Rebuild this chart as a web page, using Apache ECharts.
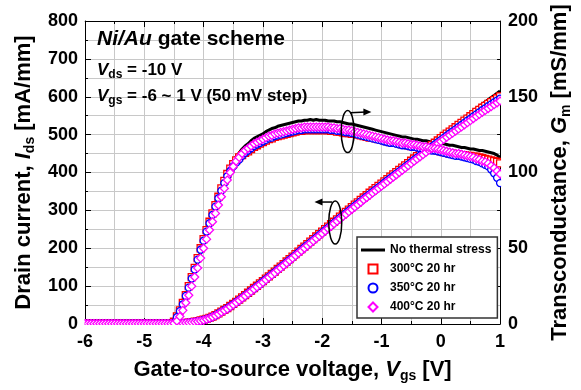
<!DOCTYPE html>
<html>
<head>
<meta charset="utf-8">
<title>Ni/Au gate scheme - Ids / Gm</title>
<script src="https://cdn.jsdelivr.net/npm/echarts@6/dist/echarts.min.js"></script>
<style>
  html, body { margin:0; padding:0; background:#fff; }
  #chart { width:581px; height:390px; }
</style>
</head>
<body>
<div id="chart"></div>
<script>
// ===== Data, Vgs sweep -6 .. 1 V, 50 mV step
const VGS_START = -6, VGS_STEP = 0.05, VGS_COUNT = 141;
const LEGEND_NAMES = ['No thermal stress', '300°C 20 hr', '350°C 20 hr', '400°C 20 hr'];

// drain current [mA/mm]
const ID_NONE = [
  0.5,0.5,0.5,0.5,0.5,0.5,0.5,0.5,0.5,0.5,
  0.5,0.5,0.5,0.5,0.5,0.5,0.5,0.5,0.5,0.5,
  0.5,0.5,0.5,0.5,0.5,0.5,0.5,0.5,0.5,0.5,
  0.5,
  1,1.6,2.3,3.1,4.1,5.3,6.6,8.1,9.9,12,
  14.5,17,20.5,24.5,29,34,38.5,43,48.5,54,
  60,66,72,78,84.5,90.5,97,103,109,115.5,
  122,128.5,135,141,148,154.5,161,168,174.5,181,
  187.5,194,201,207.5,214,221,227.5,234,240.5,247,
  253.5,260.5,267,273.5,280,287,293,299.5,306,312.5,
  319,325,331.5,338,344,350.5,356.5,362.5,368.5,374.5,
  381,387,393,399.5,405.5,411.5,418,424,430,436.5,
  442.5,448.5,454.5,460.5,466.5,472.5,478.5,484.5,490.5,497,
  503,509,515,521,527,533,539,545,551,557,
  563,569,574.5,580.5,586.5,592,598,603.5,609.5,615
];
const ID_300 = [
  0.5,0.5,0.5,0.5,0.5,0.5,0.5,0.5,0.5,0.5,
  0.5,0.5,0.5,0.5,0.5,0.5,0.5,0.5,0.5,0.5,
  0.5,0.5,0.5,0.5,0.5,0.5,0.5,0.5,0.5,0.5,
  0.5,
  1,1.5,2.1,2.9,3.8,4.9,6.1,7.5,9.2,11.2,
  13.5,16,19.5,23.5,28,32.5,37.5,42,47.5,53,
  58.5,64.5,70.5,76.5,82.5,88.5,95,101,107,113,
  120,126,132.5,138.5,145.5,151.5,158,165,171.5,178,
  184.5,191,198,204.5,211,217.5,224,231,237.5,244,
  250.5,257,263.5,270,276.5,283.5,289.5,296,302,308.5,
  315,321,327.5,334,340,346.5,352.5,358.5,364.5,370.5,
  376.5,382.5,389,395,401,407,413,419,425,431,
  437,443,449,455,461,467,472.5,478.5,484.5,491,
  496.5,502.5,508,514,519.5,525.5,531,537,542.5,548.5,
  554,560,565.5,571,576,581,586,591,596,601
];
const ID_350 = [
  0.5,0.5,0.5,0.5,0.5,0.5,0.5,0.5,0.5,0.5,
  0.5,0.5,0.5,0.5,0.5,0.5,0.5,0.5,0.5,0.5,
  0.5,0.5,0.5,0.5,0.5,0.5,0.5,0.5,0.5,0.5,
  0.5,
  0.9,1.3,1.9,2.6,3.5,4.5,5.6,6.9,8.5,10.5,
  13,15.5,19,22.5,27,32,36.5,41,46.5,52,
  57.5,63,69,75,81,87,93,99,105,111.5,
  118,124.5,130.5,136.5,143.5,149.5,156,162.5,169,175.5,
  182,189,195.5,202,208.5,215,221.5,228,234.5,241,
  247.5,254,260.5,267,273.5,280,286,292.5,299,305.5,
  311.5,317.5,324,330.5,336.5,342.5,348.5,354.5,360.5,366.5,
  373,379,385,391,397,403,409,415,421,427,
  433,439,444.5,450.5,456.5,462.5,468,474,480,485.5,
  491.5,497,503,508.5,514,520,525.5,531,537,542,
  548,553.5,559,564.5,569.5,575,580,585,590,595
];
const ID_400 = [
  0.5,0.5,0.5,0.5,0.5,0.5,0.5,0.5,0.5,0.5,
  0.5,0.5,0.5,0.5,0.5,0.5,0.5,0.5,0.5,0.5,
  0.5,0.5,0.5,0.5,0.5,0.5,0.5,0.5,0.5,0.5,
  0.5,
  0.8,1.2,1.8,2.5,3.3,4.3,5.4,6.6,8.2,10,
  12.5,15,18.5,22,26,31,35.5,40,45.5,51,
  56.5,62,68,74,80,86,92,98,104,110,
  116.5,123,129,135,142,148,154.5,161,167.5,174,
  180.5,187,193.5,200,206.5,213,219.5,226,232.5,239,
  245.5,252,258.5,265,271.5,278,284,290,296.5,303,
  309,315,321.5,328,334,340,346,352,358,364,
  370,376,382,388,394,400,406,412,418,424,
  430,436,441.5,447,453,459,464.5,470,476,482,
  487.5,493,498.5,504,509.5,515,520.5,526,531.5,537,
  542.5,548,553.5,559,564,569,574,579,584,589
];

// transconductance [mS/mm]
const GM_NONE = [
  0.2,0.2,0.2,0.2,0.2,0.2,0.2,0.2,0.2,0.2,
  0.2,0.2,0.2,0.2,0.2,0.2,0.2,0.2,0.2,0.2,
  0.2,0.2,0.2,0.2,0.2,0.2,0.2,0.2,0.2,0.2,
  1,
  4,7.5,12,17,22.5,28.5,34.5,41,47.5,54,
  60,66,71.5,77,82.5,88,93.5,99,103.5,107.5,
  110.5,113,115.5,117.5,119,121,122.5,123.5,124.5,125.5,
  127,128,129,129.5,130.5,131,131.5,132,132.5,133,
  133.5,134,134,134.5,134.5,135,134.5,135,134.5,134.5,
  134.5,134,134,134,133.5,133.5,133,132.5,132,132,
  131.5,131,130.5,130,129.5,129,128.5,128,127.5,127,
  126.5,126,125.5,125,124.5,124,123.5,123.5,123,122.5,
  122,122,121.5,121,121,120.5,120,120,119.5,119,
  119,118.5,118,118,117.5,117,116.5,116.5,116,115.5,
  115.5,115,114.5,114.5,114,113.5,113,112.5,111.5,110
];
const GM_300 = [
  0.2,0.2,0.2,0.2,0.2,0.2,0.2,0.2,0.2,0.2,
  0.2,0.2,0.2,0.2,0.2,0.2,0.2,0.2,0.2,0.2,
  0.2,0.2,0.2,0.2,0.2,0.2,0.2,0.2,0.2,0.2,
  1.5,
  5,9,14,19,25,31,37,43.5,50,56,
  62,67.5,73,78.5,84,89.5,94.5,99,102.5,105.5,
  108,110,111.5,113,114,115.5,117,118,119,120,
  121,122,122.5,123.5,124,124.5,125,125.5,126,126.5,
  127,127.5,127.5,128,128,128,128,128,128,128,
  128,128,127.5,127.5,127,127,126.5,126,126,125.5,
  125.5,125,124.5,124,123.5,123,123,122.5,122,121.5,
  121,120.5,120,120,119.5,119,118.5,118.5,118,117.5,
  117.5,117,116.5,116,116,115.5,115,115,114.5,114,
  113.5,113,112.5,112.5,112,112,111.5,111.5,111,111,
  110.5,110.5,110,109.5,109,108.5,108,107.5,107,106
];
const GM_350 = [
  0.2,0.2,0.2,0.2,0.2,0.2,0.2,0.2,0.2,0.2,
  0.2,0.2,0.2,0.2,0.2,0.2,0.2,0.2,0.2,0.2,
  0.2,0.2,0.2,0.2,0.2,0.2,0.2,0.2,0.2,0.2,
  1,
  4.5,8.5,13,18.5,24,30,36,42.5,49,55,
  61,66.5,72,77.5,83,88,93,97.5,101,104,
  106.5,108.5,111,113,114.5,116,117.5,118.5,119.5,120.5,
  121.5,122.5,123,124,124.5,125,125.5,126,126.5,127,
  127.5,128,128,128.5,128.5,128.5,128.5,128.5,128.5,128.5,
  128.5,128.5,128,128,127.5,127.5,127,126.5,126.5,126,
  125.5,125,124.5,124,123.5,123,122.5,122,121.5,121,
  120.5,120,119.5,119.5,119,118.5,118,118,117.5,117,
  117,116.5,116,115.5,115.5,115,114.5,114.5,114,113.5,
  113,112.5,112,111.5,111,111,110.5,110,109.5,109,
  108.5,107.5,107,106,105,104,102,99.5,96.5,93
];
const GM_400 = [
  0.2,0.2,0.2,0.2,0.2,0.2,0.2,0.2,0.2,0.2,
  0.2,0.2,0.2,0.2,0.2,0.2,0.2,0.2,0.2,0.2,
  0.2,0.2,0.2,0.2,0.2,0.2,0.2,0.2,0.2,0.2,
  0.5,
  2,5,9,14,19,25,31,37,43.5,50,
  56,62,67.5,73,78.5,84,89.5,95,100,104,
  107.5,110,112.5,114.5,116,117.5,119,120,121,122,
  123,124,124.5,125.5,126,126.5,127,127.5,128,128.5,
  129,129.5,129.5,130,130,130,130,130,130,130,
  130,130,129.5,129.5,129,129,128.5,128,128,127.5,
  127,126.5,126,125.5,125,124.5,124,123.5,123,122.5,
  122,121.5,121,121,120.5,120,119.5,119.5,119,118.5,
  118.5,118,117.5,117,117,116.5,116,116,115.5,115,
  114.5,114,113.5,113,112.5,112.5,112,111.5,111,110.5,
  110,109,108.5,107.5,107,106,104.5,103,101,99
];

// ===== Helpers
const FONT = '"Liberation Sans", Arial, Helvetica, sans-serif';
const VGS = [];
for (let i = 0; i < VGS_COUNT; i++) VGS.push(+(VGS_START + i * VGS_STEP).toFixed(2));
const pairs = ys => ys.map((y, i) => [VGS[i], y]);

function titleRich(size){
  return {
    n: { fontFamily:FONT, fontWeight:'bold', fontSize:size, lineHeight:size+4, color:'#000' },
    i: { fontFamily:FONT, fontWeight:'bold', fontStyle:'italic', fontSize:size, lineHeight:size+4, color:'#000' },
    s: { fontFamily:FONT, fontWeight:'bold', fontSize:Math.round(size*0.64), lineHeight:5, verticalAlign:'bottom', color:'#000' }
  };
}

function lineSeries(name, data, yIdx){
  return { name, type:'line', yAxisIndex:yIdx, data, symbol:'none', silent:true,
    lineStyle:{ color:'#000', width:3 }, itemStyle:{ color:'#000' }, z:2 };
}
function markSeries(name, data, yIdx, symbol, size, color, z){
  return { name, type:'scatter', yAxisIndex:yIdx, data, symbol, symbolSize:size, silent:true,
    itemStyle:{ color:'#fff', borderColor:color, borderWidth:1.3, opacity:1 }, z };
}

const axisBase = {
  type:'value',
  axisLine:{ show:true, onZero:false, lineStyle:{ color:'#000', width:1 } },
  axisTick:{ show:true, inside:true, length:6, lineStyle:{ color:'#000' } },
  minorTick:{ show:true, splitNumber:2, length:3, lineStyle:{ color:'#000' } },
  axisLabel:{ fontFamily:FONT, fontWeight:'bold', fontSize:18, color:'#000' }
};
const gridLine = { show:true, lineStyle:{ color:'#c8c8c8', width:1 } };

// legend icons: bar for the line, hollow shapes for the markers
const ICONS = [
  'path://M0,0L24,0L24,3L0,3Z',
  'path://M0,0L10,0L10,10L0,10Z',
  'path://M10,5A5,5,0,1,1,0,5A5,5,0,1,1,10,5Z',
  'path://M5,0L10,5L5,10L0,5Z'
];

// ===== Chart
const chart = echarts.init(document.getElementById('chart'), null, { renderer:'canvas' });

chart.setOption({
  animation:false,
  backgroundColor:'#fff',
  grid:{ left:85, right:76, top:21, bottom:66 },
  legend:{
    data:LEGEND_NAMES.map((n, i) => ({ name:n, icon:ICONS[i] })),
    orient:'vertical', left:357, top:237,
    padding:[7,6,5,4], itemGap:7, itemWidth:24, itemHeight:9,
    backgroundColor:'#fff', borderColor:'#333', borderWidth:1.5, borderRadius:0,
    selectedMode:false,
    textStyle:{ fontFamily:FONT, fontWeight:'bold', fontSize:12, color:'#000' }
  },
  xAxis:[
    Object.assign({}, axisBase, {
      min:-6, max:1, interval:1, position:'bottom',
      splitLine:gridLine, minorSplitLine:gridLine,
      axisLabel:Object.assign({}, axisBase.axisLabel, { margin:9 }),
      name:'{n|Gate-to-source voltage, }{i|V}{s|gs}{n| [V]}',
      nameLocation:'middle', nameGap:33,
      nameTextStyle:{ rich:titleRich(22) }
    }),
    Object.assign({}, axisBase, {
      min:-6, max:1, interval:1, position:'top',
      splitLine:{ show:false }, axisLabel:{ show:false }
    })
  ],
  yAxis:[
    Object.assign({}, axisBase, {
      min:0, max:800, interval:100, position:'left',
      splitLine:gridLine, minorSplitLine:gridLine,
      axisLabel:Object.assign({}, axisBase.axisLabel, { margin:7 }),
      name:'{n|Drain current, }{i|I}{s|ds}{n| [mA/mm]}',
      nameLocation:'middle', nameRotate:90, nameGap:47,
      nameTextStyle:{ rich:titleRich(22) }
    }),
    Object.assign({}, axisBase, {
      min:0, max:200, interval:50, position:'right',
      splitLine:{ show:false }, minorSplitLine:{ show:false },
      axisLabel:Object.assign({}, axisBase.axisLabel, { margin:8 }),
      name:'{n|Transconductance, }{i|G}{s|m}{n| [mS/mm]}',
      nameLocation:'middle', nameRotate:90, nameGap:46,
      nameTextStyle:{ rich:titleRich(22) }
    })
  ],
  series:[
    lineSeries(LEGEND_NAMES[0], pairs(ID_NONE), 0),
    lineSeries(LEGEND_NAMES[0], pairs(GM_NONE), 1),
    markSeries(LEGEND_NAMES[1], pairs(ID_300), 0, 'rect', 7, '#ff0000', 3),
    markSeries(LEGEND_NAMES[1], pairs(GM_300), 1, 'rect', 7, '#ff0000', 3),
    markSeries(LEGEND_NAMES[2], pairs(ID_350), 0, 'circle', 7, '#0000ff', 4),
    markSeries(LEGEND_NAMES[2], pairs(GM_350), 1, 'circle', 7, '#0000ff', 4),
    markSeries(LEGEND_NAMES[3], pairs(ID_400), 0, 'diamond', 8, '#ff00ff', 5),
    markSeries(LEGEND_NAMES[3], pairs(GM_400), 1, 'diamond', 8, '#ff00ff', 5)
  ]
});

// ===== Annotations (text block, ellipses + arrows, edge masks)
function px(v, y){ return chart.convertToPixel({ xAxisIndex:0, yAxisIndex:0 }, [v, y]); }

function drawAnnotations(){
  const [x0, y0] = px(-6, 0);
  const [x1, y1] = px(1, 800);
  const line = { stroke:'#000', lineWidth:1.5, fill:null };

  const e1 = px(-1.57, 508), a1s = px(-1.53, 558), a1e = px(-1.17, 560);
  const e2 = px(-1.78, 268), a2s = px(-1.83, 322), a2e = px(-2.13, 322);

  const sub = { fontFamily:FONT, fontWeight:'bold', fontSize:12, lineHeight:4, verticalAlign:'bottom', fill:'#000' };
  const txt17 = { fontFamily:FONT, fontWeight:'bold', fontSize:17, lineHeight:20, fill:'#000' };
  const txt17i = Object.assign({}, txt17, { fontStyle:'italic' });

  const graphics = [
    // masks keep edge markers inside the frame
    { type:'rect', z:100, silent:true, shape:{ x:x0-8, y:y0+1, width:x1-x0+16, height:6 }, style:{ fill:'#fff' } },
    { type:'rect', z:100, silent:true, shape:{ x:x0-6, y:y1, width:5.5, height:y0-y1+1 }, style:{ fill:'#fff' } },
    { type:'rect', z:100, silent:true, shape:{ x:x1+1, y:y1, width:6, height:y0-y1+1 }, style:{ fill:'#fff' } },

    { type:'text', left:97, top:29, z:110, style:{
        text:'{i|Ni/Au}{n| gate scheme}',
        rich:{
          i:{ fontFamily:FONT, fontWeight:'bold', fontStyle:'italic', fontSize:21, lineHeight:24, fill:'#000' },
          n:{ fontFamily:FONT, fontWeight:'bold', fontSize:21, lineHeight:24, fill:'#000' }
        } } },
    { type:'text', left:97, top:62, z:110, style:{
        text:'{i|V}{s|ds}{n| = -10 V}', rich:{ i:txt17i, n:txt17, s:sub } } },
    { type:'text', left:97, top:88, z:110, style:{
        text:'{i|V}{s|gs}{n| = -6 ~ 1 V (50 mV step)}', rich:{ i:txt17i, n:txt17, s:sub } } },

    { type:'ellipse', z:110, shape:{ cx:e1[0], cy:e1[1], rx:6.5, ry:21 }, style:line },
    { type:'polyline', z:110, shape:{ points:[a1s, [a1e[0]-5, a1e[1]]] }, style:line },
    { type:'polygon', z:110, shape:{ points:[a1e, [a1e[0]-8, a1e[1]-3.5], [a1e[0]-8, a1e[1]+3.5]] }, style:{ fill:'#000' } },

    { type:'ellipse', z:110, shape:{ cx:e2[0], cy:e2[1], rx:6.5, ry:21.5 }, style:line },
    { type:'polyline', z:110, shape:{ points:[a2s, [a2e[0]+5, a2e[1]]] }, style:line },
    { type:'polygon', z:110, shape:{ points:[a2e, [a2e[0]+8, a2e[1]-3.5], [a2e[0]+8, a2e[1]+3.5]] }, style:{ fill:'#000' } }
  ];
  chart.setOption({ graphic:graphics });
}

drawAnnotations();
</script>
</body>
</html>
